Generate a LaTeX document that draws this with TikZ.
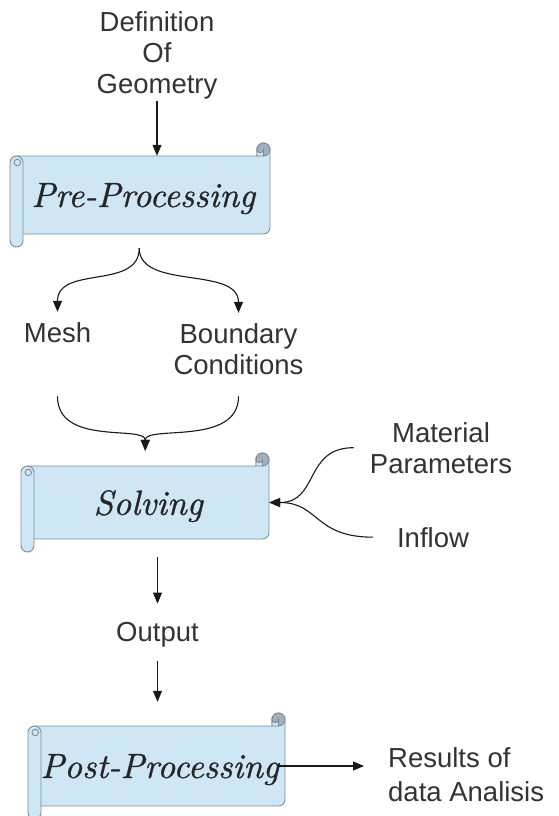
\documentclass[tikz,border=0pt]{standalone}
\usepackage{fontspec}
\newfontfamily\labelfont{Liberation Sans}
\newfontfamily\scrollfont{lmroman10-italic}[Extension=.otf, FakeBold=0.8]
\usetikzlibrary{arrows.meta,calc}

\definecolor{scrollfill}{RGB}{207,231,245}
\definecolor{scrolledge}{RGB}{128,140,150}
\definecolor{scrollcurl}{RGB}{160,178,192}
\definecolor{inktext}{RGB}{51,51,51}

% roll thickness, half and quarter of it
\newcommand\scrC{13}
\newcommand\scrH{6.5}
\newcommand\scrQ{3.25}

\tikzset{
  edge/.style={draw=scrolledge, line width=0.9pt},
  scrolltext/.style={inner sep=0pt, text depth=0pt, text=black!85,
    font=\scrollfont\fontsize{35}{40}\selectfont},
  lbl/.style={font=\labelfont\fontsize{27.5}{31}\selectfont, text=inktext,
    inner sep=0pt, align=center},
  conn/.style={draw=black!90, line width=1.1pt,
    -{Triangle[length=11pt,width=9pt]}},
}

% scroll banner: name, left, top, right, bottom (y measured downwards), text
\newcommand\scrollbanner[6]{%
  \pgfmathsetmacro\scrL{#2}%
  \pgfmathsetmacro\scrT{-(#3)}%
  \pgfmathsetmacro\scrR{#4}%
  \pgfmathsetmacro\scrB{-(#5)}%
  \pgfmathsetmacro\scrW{\scrR-\scrL-\scrH}%
  \pgfmathsetmacro\scrHt{\scrT-\scrB-2*\scrC}%
  % sheet, rolled over at the top right
  \filldraw[edge, fill=scrollfill]
    (\scrL+\scrH,\scrT-\scrC) -- (\scrR-\scrC,\scrT-\scrC) -- (\scrR-\scrC,\scrT-\scrH)
    arc[start angle=180,end angle=0,radius=\scrH]
    -- (\scrR,\scrB+\scrC+\scrH) arc[start angle=0,end angle=-90,radius=\scrH]
    -- (\scrL+\scrH,\scrB+\scrC) -- cycle;
  \filldraw[edge, fill=scrollcurl] (\scrR-\scrH,\scrT-\scrH) circle[radius=\scrH];
  \filldraw[edge, fill=scrollfill]
    (\scrR-\scrH,\scrT-\scrH) arc[start angle=0,end angle=-180,radius=\scrQ]
    -- (\scrR-\scrC,\scrT-\scrC) -- (\scrR-\scrH,\scrT-\scrC) -- cycle;
  % roll on the left
  \filldraw[edge, fill=scrollfill]
    (\scrL,\scrT-\scrC-\scrH) -- (\scrL,\scrB+\scrH)
    arc[start angle=180,end angle=360,radius=\scrH]
    -- (\scrL+\scrC,\scrT-\scrC-\scrH)
    arc[start angle=0,end angle=180,radius=\scrH] -- cycle;
  \draw[edge] (\scrL+\scrH+0.8,\scrT-\scrC-\scrH) circle[radius=\scrQ];
  \node[scrolltext, minimum width=\scrW pt, minimum height=\scrHt pt]
    (#1) at ({(\scrL+\scrH+\scrR)/2},{(\scrT+\scrB)/2}) {#6};
}

\begin{document}
\begin{tikzpicture}[x=1pt,y=1pt]
  \useasboundingbox (0,0) rectangle (558,-816);
  \fill[white] (0,0) rectangle (558,-816);

  % banners
  \scrollbanner{pre}{10}{143}{270}{247}{Pre-Processing}
  \scrollbanner{solve}{21}{453}{269}{552}{Solving}
  \scrollbanner{post}{28}{713}{285}{819}{Post-Processing}

  % labels (base anchor sits on the last line)
  \node[lbl, anchor=base] (def) at (157,-93) {Definition\\Of\\Geometry};
  \node[lbl, anchor=base] (mesh) at (57.5,-342) {Mesh};
  \node[lbl, anchor=base] (bc) at (238.5,-374) {Boundary\\Conditions};
  \node[lbl, anchor=base] (mat) at (441,-473) {Material\\Parameters};
  \node[lbl, anchor=base] (inflow) at (433,-547) {Inflow};
  \node[lbl, anchor=base] (out) at (157.5,-641) {Output};
  \node[lbl, align=left, anchor=base west,
        font=\labelfont\fontsize{27.5}{34}\selectfont] (res) at (388,-801)
        {Results of\\data Analisis};

  % geometry into pre-processing
  \draw[conn] ([yshift=-2pt]def.south) -- (def.south |- pre.north);

  % pre-processing splits into mesh and boundary conditions
  \draw[conn] ([shift={(-4pt,-14pt)}]pre.south)
    .. controls +(0,-42) and +(0,47) .. ([yshift=10pt]mesh.north);
  \draw[conn] ([shift={(-4pt,-14pt)}]pre.south)
    .. controls +(0,-42) and +(0,47) .. ([yshift=10pt]bc.north);

  % both merge into the solver
  \draw[conn] ([yshift=-22pt]bc.south -| mesh.south)
    .. controls +(0,-50) and +(0,26) .. ([shift={(-3pt,15pt)}]solve.north);
  \draw[conn] ([yshift=-22pt]bc.south)
    .. controls +(0,-50) and +(0,26) .. ([shift={(-3pt,15pt)}]solve.north);

  % material parameters and inflow into the solver
  \draw[conn] ([xshift=-16pt]mat.west)
    .. controls +(-50,0) and +(50,0) .. (solve.east);
  \draw[conn] ([xshift=-24pt]inflow.west)
    .. controls +(-59,0) and +(50,0) .. (solve.east);

  % solver output to post-processing
  \draw[conn] ([yshift=-18pt]solve.south -| out.north) -- ([yshift=18pt]out.north);
  \draw[conn] ([yshift=-14pt]out.south) -- ([yshift=24pt]out.south |- post.north);

  % results
  \draw[conn] ([xshift=-7pt]post.east) -- ([xshift=-24pt]post.east -| res.west);
\end{tikzpicture}
\end{document}
